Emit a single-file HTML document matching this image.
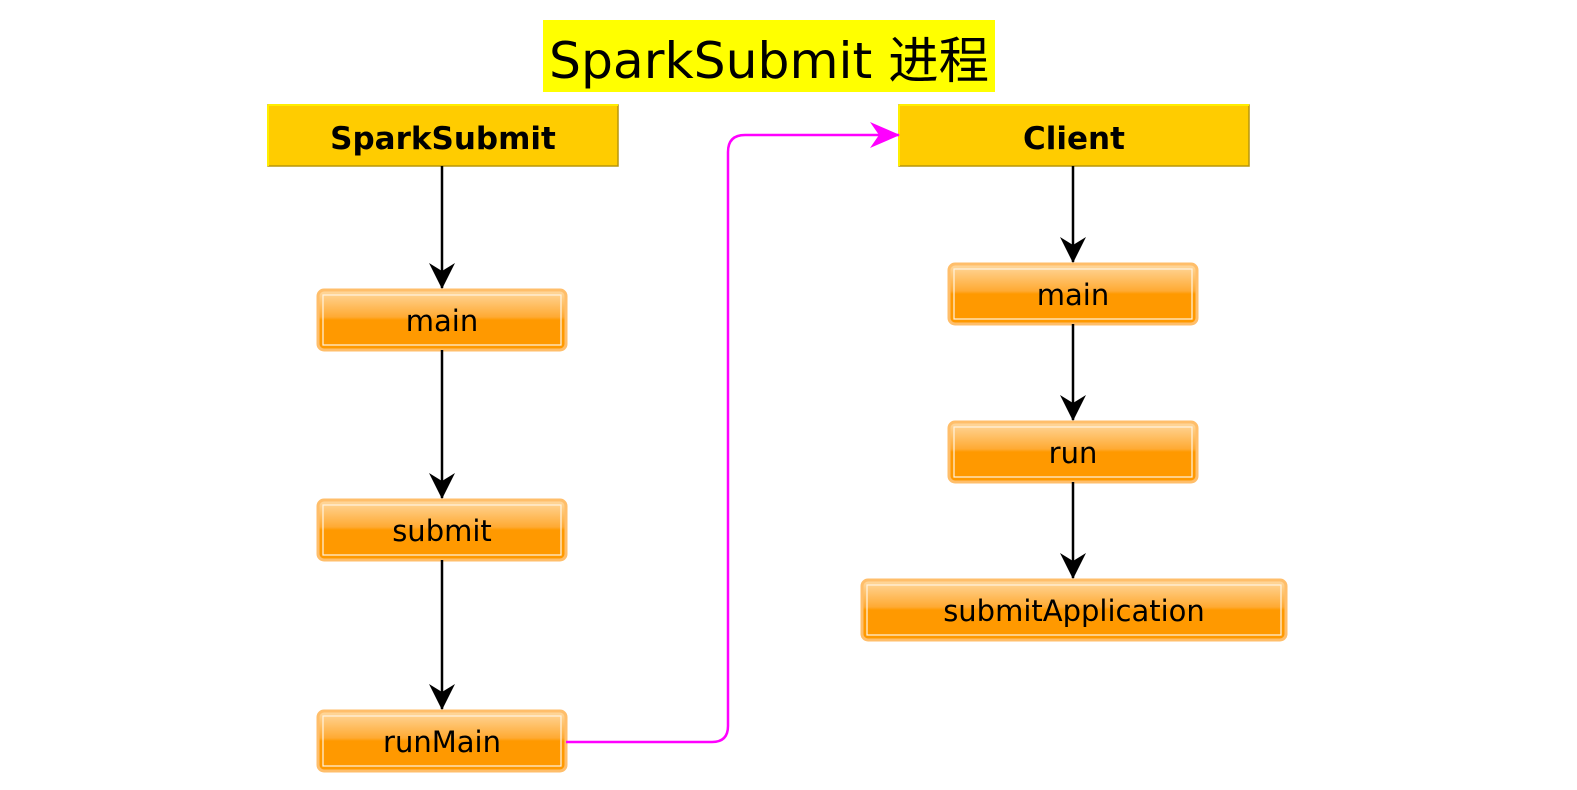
<!DOCTYPE html>
<html><head><meta charset="utf-8"><style>
html,body{margin:0;padding:0;background:#fff;}
svg{display:block;}
text{font-family:"DejaVu Sans","Liberation Sans","Noto Sans CJK SC",sans-serif;}
</style></head><body>
<svg width="1577" height="790" viewBox="0 0 1577 790" xmlns="http://www.w3.org/2000/svg">
<defs>
<linearGradient id="og" x1="0" y1="0" x2="0" y2="1">
<stop offset="0" stop-color="#ffd9a0"/>
<stop offset="0.45" stop-color="#ffaa33"/>
<stop offset="0.5" stop-color="#ff9900"/>
<stop offset="1" stop-color="#ff9900"/>
</linearGradient>
<marker id="ab" viewBox="0 0 26 26" refX="25" refY="13" markerWidth="26" markerHeight="26" markerUnits="userSpaceOnUse" orient="auto">
<path d="M0,0 L26,13 L0,26 L8,13 Z" fill="#000"/>
</marker>
<marker id="am" viewBox="0 0 30 26" refX="29" refY="13" markerWidth="30" markerHeight="26" markerUnits="userSpaceOnUse" orient="auto">
<path d="M0,0 L30,13 L0,26 L9,13 Z" fill="#ff00ff"/>
</marker>
</defs>
<rect x="543" y="20" width="452" height="72" fill="#ffff00"/>
<text x="769" y="78" font-size="50" text-anchor="middle" fill="#000" textLength="440" lengthAdjust="spacingAndGlyphs">SparkSubmit 进程</text>

<rect x="268" y="105" width="350" height="61" fill="#ffcc00" stroke="#b8960a" stroke-width="1.5"/>
<line x1="268" y1="105" x2="618" y2="105" stroke="#ffee00" stroke-width="2"/>
<line x1="268" y1="105" x2="268" y2="166" stroke="#ffee00" stroke-width="2"/>
<text x="443" y="149" font-size="31" font-weight="bold" text-anchor="middle">SparkSubmit</text>
<rect x="899" y="105" width="350" height="61" fill="#ffcc00" stroke="#b8960a" stroke-width="1.5"/>
<line x1="899" y1="105" x2="1249" y2="105" stroke="#ffee00" stroke-width="2"/>
<line x1="899" y1="105" x2="899" y2="166" stroke="#ffee00" stroke-width="2"/>
<text x="1074" y="149" font-size="31" font-weight="bold" text-anchor="middle">Client</text>

<g font-size="29" text-anchor="middle" fill="#000">
<g>
<rect x="318" y="290" width="248" height="60" rx="6" fill="url(#og)" stroke="#ffbe6a" stroke-width="3"/>
<rect x="323" y="295" width="238" height="50" fill="none" stroke="#fff3e0" stroke-width="1.2"/>
<text x="442" y="331">main</text>
</g>
<g>
<rect x="318" y="500" width="248" height="60" rx="6" fill="url(#og)" stroke="#ffbe6a" stroke-width="3"/>
<rect x="323" y="505" width="238" height="50" fill="none" stroke="#fff3e0" stroke-width="1.2"/>
<text x="442" y="541">submit</text>
</g>
<g>
<rect x="318" y="711" width="248" height="60" rx="6" fill="url(#og)" stroke="#ffbe6a" stroke-width="3"/>
<rect x="323" y="716" width="238" height="50" fill="none" stroke="#fff3e0" stroke-width="1.2"/>
<text x="442" y="752">runMain</text>
</g>
<g>
<rect x="949" y="264" width="248" height="60" rx="6" fill="url(#og)" stroke="#ffbe6a" stroke-width="3"/>
<rect x="954" y="269" width="238" height="50" fill="none" stroke="#fff3e0" stroke-width="1.2"/>
<text x="1073" y="305">main</text>
</g>
<g>
<rect x="949" y="422" width="248" height="60" rx="6" fill="url(#og)" stroke="#ffbe6a" stroke-width="3"/>
<rect x="954" y="427" width="238" height="50" fill="none" stroke="#fff3e0" stroke-width="1.2"/>
<text x="1073" y="463">run</text>
</g>
<g>
<rect x="862" y="580" width="424" height="60" rx="6" fill="url(#og)" stroke="#ffbe6a" stroke-width="3"/>
<rect x="867" y="585" width="414" height="50" fill="none" stroke="#fff3e0" stroke-width="1.2"/>
<text x="1074" y="621">submitApplication</text>
</g>
</g>

<g stroke="#000" stroke-width="2.5" fill="none">
<line x1="442" y1="166" x2="442" y2="288" marker-end="url(#ab)"/>
<line x1="442" y1="350" x2="442" y2="498" marker-end="url(#ab)"/>
<line x1="442" y1="560" x2="442" y2="709" marker-end="url(#ab)"/>
<line x1="1073" y1="166" x2="1073" y2="262" marker-end="url(#ab)"/>
<line x1="1073" y1="324" x2="1073" y2="420" marker-end="url(#ab)"/>
<line x1="1073" y1="482" x2="1073" y2="578" marker-end="url(#ab)"/>
</g>
<path d="M566,742 L712,742 Q728,742 728,726 L728,152 Q728,135 745,135 L899,135" stroke="#ff00ff" stroke-width="2.5" fill="none" marker-end="url(#am)"/>
</svg>
</body></html>
